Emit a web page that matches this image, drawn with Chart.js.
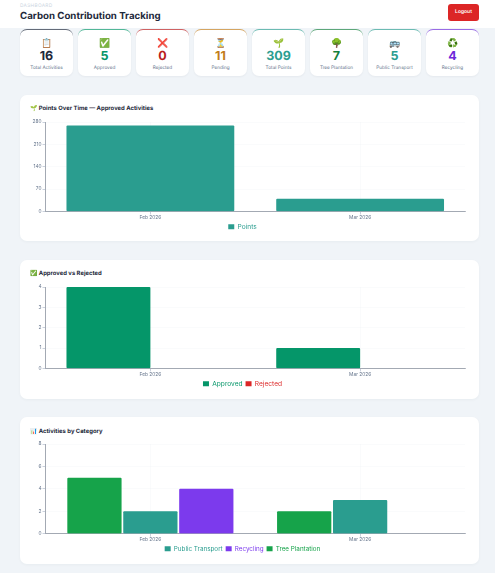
<!DOCTYPE html>
<html><head><meta charset="utf-8">
<script src="https://cdn.jsdelivr.net/npm/chart.js@4"></script>
<style>
*{box-sizing:border-box;margin:0;padding:0}
html,body{width:495px;height:573px;overflow:hidden;background:#f0f4f8;font-family:Inter,"Noto Sans",sans-serif;text-rendering:geometricPrecision}
#head{position:absolute;left:0;top:0;width:495px;height:28px;background:#fff}
#crumb{position:absolute;left:20px;top:3px;font-size:4.8px;line-height:6px;letter-spacing:.3px;color:#cbd5e1}
h1{position:absolute;left:20px;top:10px;font-size:9.7px;line-height:13px;font-weight:700;color:#1e293b;white-space:nowrap}
#logout{position:absolute;left:448px;top:4px;width:31px;height:16.5px;background:#dc2626;border-radius:3px;color:#fff;font-size:5px;font-weight:600;text-align:center;line-height:16.5px}
.stat{position:absolute;top:29px;width:53px;height:47px;background:#fff;border-radius:7px;border-top:1px solid;text-align:center;box-shadow:0 1px 2px rgba(30,41,59,.05)}
.stat i{display:block;font-style:normal;font-size:9px;line-height:11px;margin-top:8px}
.stat b{display:block;font-size:12.5px;line-height:13px;font-weight:700;margin-top:1px}
.stat span{display:block;font-size:4.7px;line-height:7px;color:#64748b;margin-top:1.5px;white-space:nowrap}
.card{position:absolute;left:20px;width:459px;background:#fff;border-radius:7px;box-shadow:0 1px 3px rgba(30,41,59,.04)}
.card h2{position:absolute;left:10px;top:10px;font-size:5.9px;line-height:8px;font-weight:700;color:#1e293b;white-space:nowrap}
canvas{position:absolute;left:0;display:block}
</style></head><body>
<div id="head"><div id="crumb">DASHBOARD</div><h1>Carbon Contribution Tracking</h1><div id="logout">Logout</div></div>
<div id="stats"></div>
<div class="card" style="top:95px;height:146px"><h2>🌱 Points Over Time — Approved Activities</h2><canvas id="c1" style="top:20px"></canvas></div>
<div class="card" style="top:260px;height:139px"><h2>✅ Approved vs Rejected</h2><canvas id="c2" style="top:20px"></canvas></div>
<div class="card" style="top:417px;height:147px"><h2 style="top:10.5px">📊 Activities by Category</h2><canvas id="c3" style="top:20px"></canvas></div>
<script>
const statLabels=["Total Activities","Approved","Rejected","Pending","Total Points","Tree Plantation","Public Transport","Recycling"];
const statValues=[16,5,0,11,309,7,5,4];
const statIcons=["📋","✅","❌","⏳","🌱","🌳","🚌","♻️"];
const statColors=["#1e293b","#059669","#b91c1c","#c27c1a","#2a9d8f","#15803d","#2a9d8f","#6d28d9"];
const months=["Feb 2026","Mar 2026"];
const pointsValues=[269,40];
const approvedValues=[4,1];
const rejectedValues=[0,0];
const treeValues=[5,2];
const transportValues=[2,3];
const recyclingValues=[4,0];
const legendOrder=["Public Transport","Recycling","Tree Plantation"];

statLabels.forEach((l,i)=>{
  const d=document.createElement('div');d.className='stat';
  d.style.left=(20+i*58)+'px';d.style.borderTopColor=statColors[i]+'b0';
  d.innerHTML=`<i>${statIcons[i]}</i><b style="color:${statColors[i]}">${statValues[i]}</b><span>${l}</span>`;
  document.getElementById('stats').appendChild(d);
});
const ds=(label,data,color,extra)=>Object.assign({label,data,backgroundColor:color,borderColor:color,borderWidth:0,borderRadius:1,borderSkipped:false},extra||{});
function make(id,h,datasets,step,max,bp,sorted,legendSize){
  const c=document.getElementById(id);c.width=459;c.height=h;c.style.width='459px';c.style.height=h+'px';
  c.getContext('2d').textRendering='geometricPrecision';
  new Chart(c,{type:'bar',data:{labels:months,datasets},options:{
    responsive:false,animation:false,devicePixelRatio:1,
    layout:{padding:{left:0,right:14,top:7,bottom:2}},
    datasets:{bar:{categoryPercentage:.8,barPercentage:bp}},
    plugins:{tooltip:{enabled:false},legend:{position:'bottom',
      labels:{boxWidth:6,boxHeight:5,padding:3,font:{size:legendSize,family:'Inter'},
        generateLabels(ch){
          const items=Chart.defaults.plugins.legend.labels.generateLabels(ch);
          items.forEach(it=>{it.fontColor=ch.data.datasets[it.datasetIndex].backgroundColor;it.lineWidth=0;});
          if(sorted)items.sort((a,b)=>legendOrder.indexOf(a.text)-legendOrder.indexOf(b.text));
          return items;
        }}}},
    scales:{
      x:{offset:true,grid:{color:'rgba(226,232,240,.35)',lineWidth:.5,tickColor:'#94a3b8',tickLength:3,offset:false},
        border:{color:'#a3a9b3',width:1},
        ticks:{color:'#64748b',font:{size:4.8,family:'Inter'},padding:0,maxRotation:0},
        afterFit(s){s.height=9;}},
      y:{min:0,max,grid:{color:'rgba(226,232,240,.35)',lineWidth:.5,tickColor:'#94a3b8',tickLength:3},
        border:{color:'#a3a9b3',width:1},
        ticks:{stepSize:step,color:'#64748b',font:{size:4.8,family:'Inter'},padding:1},
        afterFit(s){s.width=25.5;}}
    }}});
}
make('c1',127,[ds('Points',pointsValues,'#2a9d8f')],70,280,1,false,6.6);
make('c2',119,[ds('Approved',approvedValues,'#059669'),ds('Rejected',rejectedValues,'#dc2626')],1,4,1,false,6.6);
make('c3',127,[ds('Tree Plantation',treeValues,'#16a34a'),ds('Public Transport',transportValues,'#2a9d8f'),ds('Recycling',recyclingValues,'#7c3aed')],2,8,.97,true,6.3);
</script>
</body></html>
